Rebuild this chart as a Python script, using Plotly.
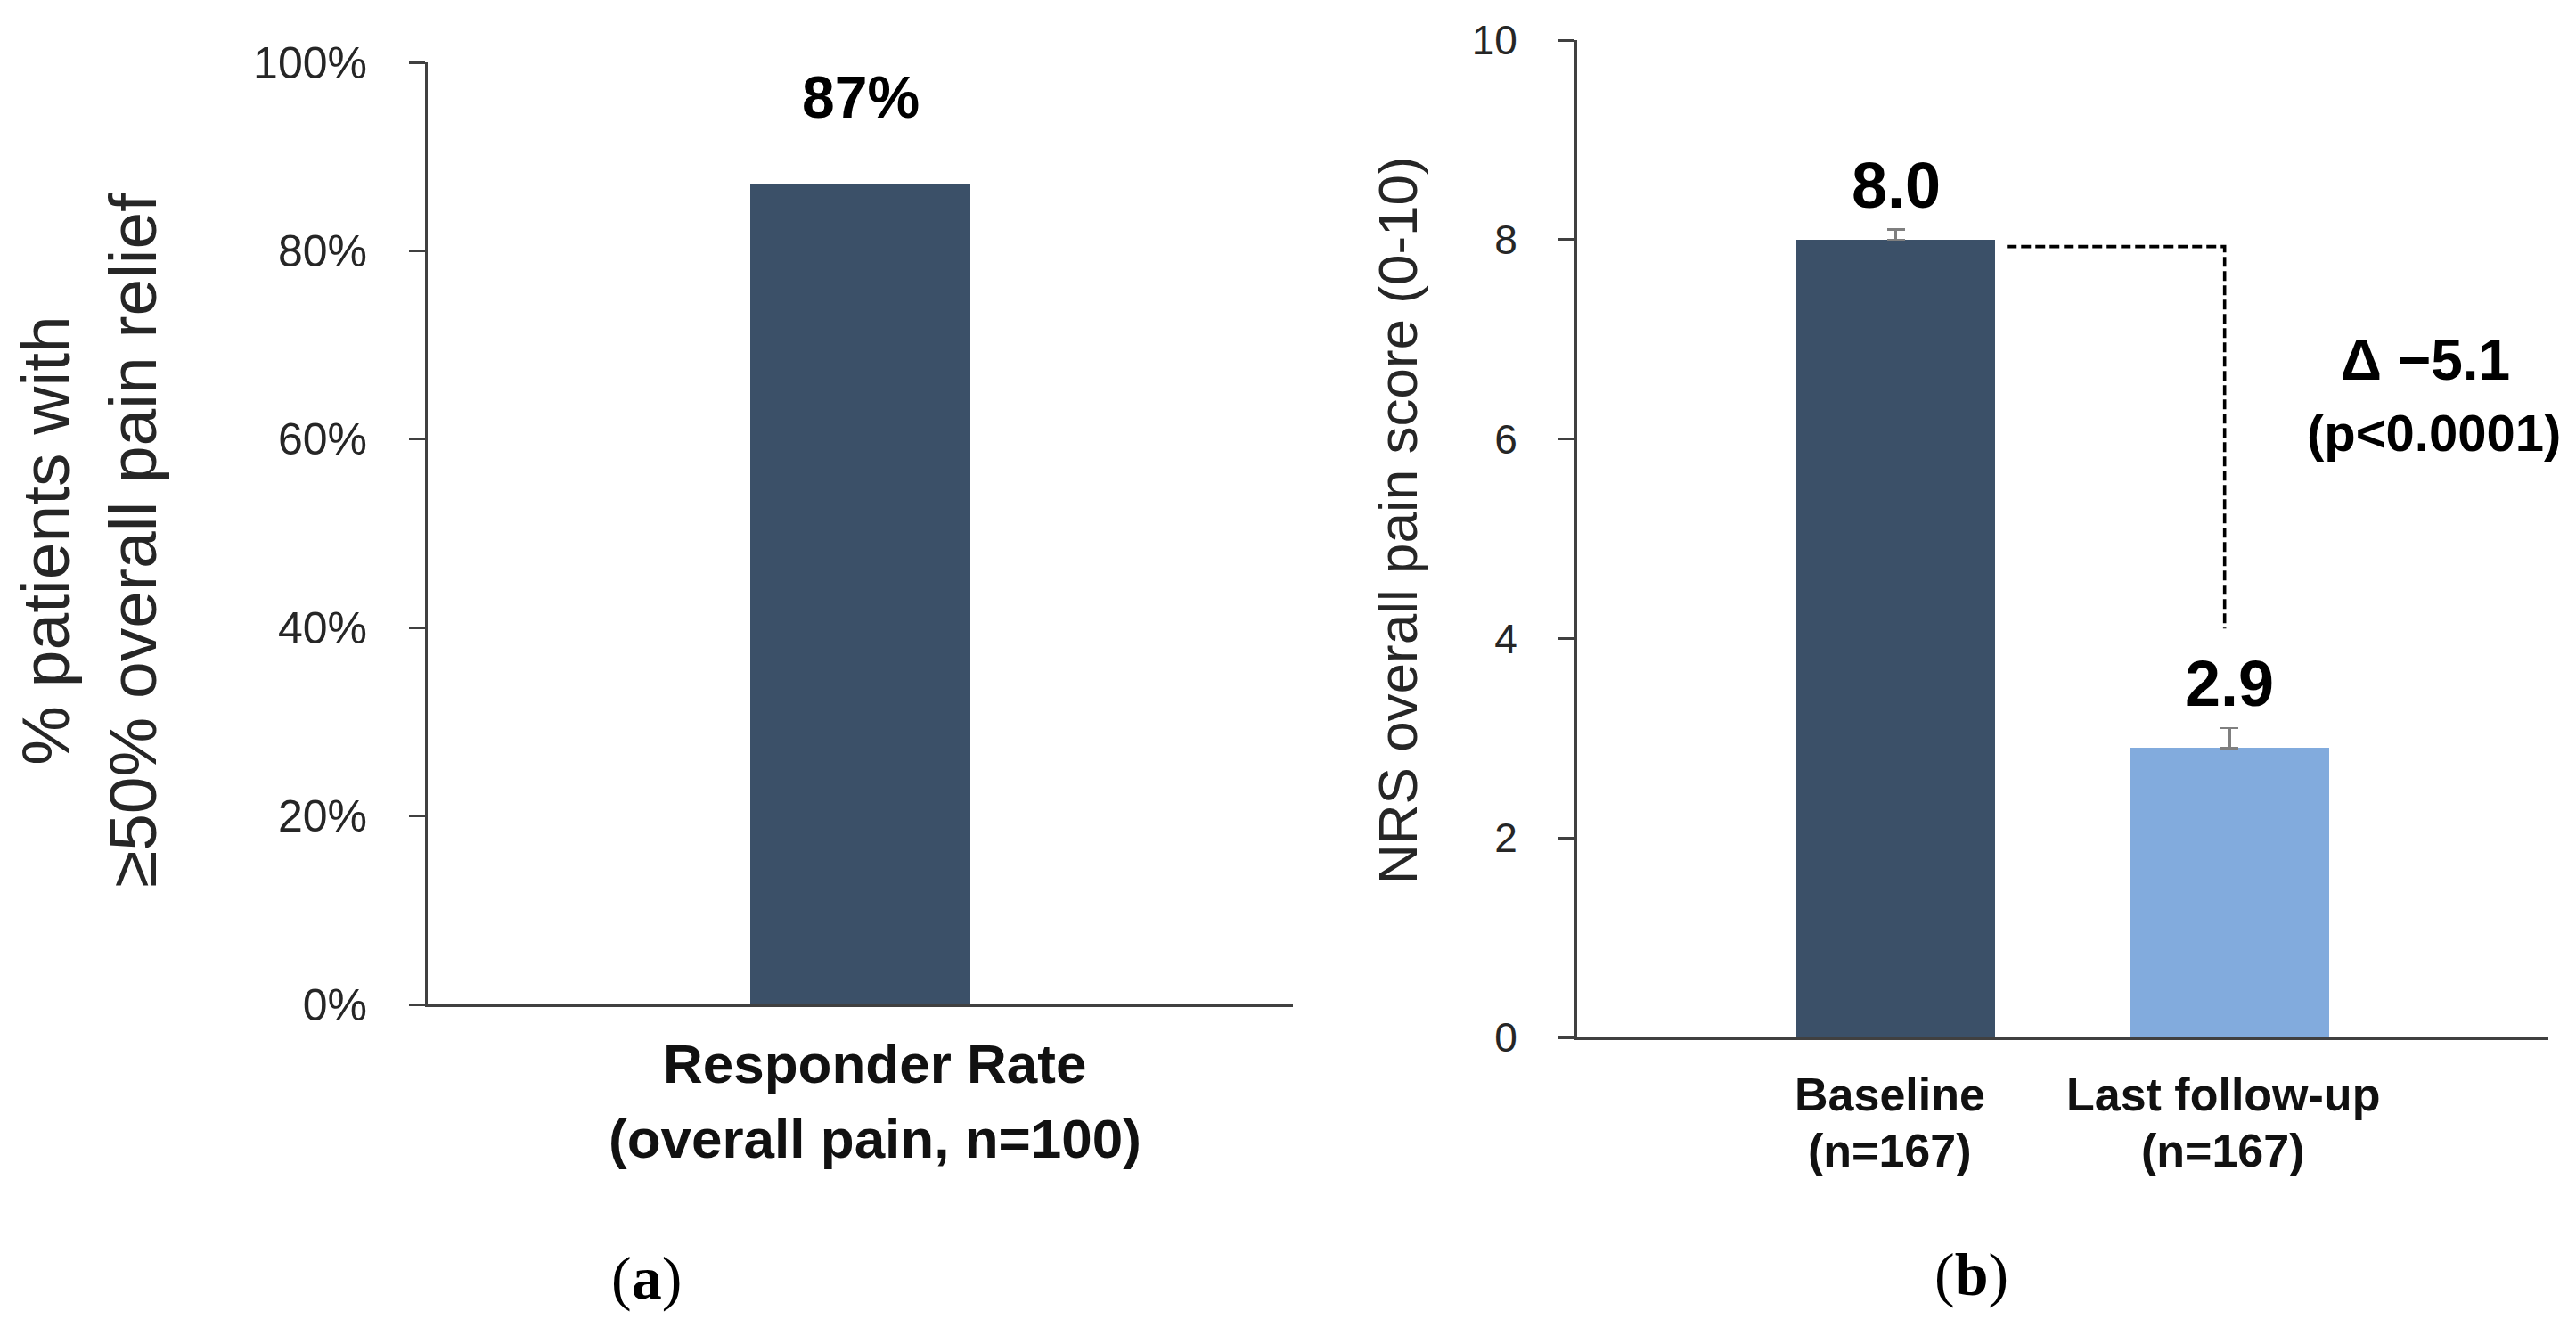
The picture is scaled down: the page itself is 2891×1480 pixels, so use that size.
import plotly.graph_objects as go

# ---- data ----
a_categories = ["Responder Rate"]
a_cat_lines = [["Responder Rate", "(overall pain, n=100)"]]
a_values = [87]
a_labels = ["87%"]
a_ticks = [0, 20, 40, 60, 80, 100]
a_ticktext = ["0%", "20%", "40%", "60%", "80%", "100%"]

b_categories = ["Baseline", "Last follow-up"]
b_cat_lines = [["Baseline", "(n=167)"], ["Last follow-up", "(n=167)"]]
b_values = [8.0, 2.9]
b_err_plus = [0.1, 0.2]
b_labels = ["8.0", "2.9"]
b_ticks = [0, 2, 4, 6, 8, 10]
delta_text = "Δ −5.1"
p_text = "(p<0.0001)"
dash_end_value = 4.1

W, H = 2891, 1480
AX = "#404040"
TXT = "#262626"
FONT = "Liberation Sans, Arial, sans-serif"
SERIF = "Liberation Serif, Times New Roman, serif"

fig = go.Figure()

fig.add_trace(go.Bar(
    x=a_categories, y=a_values, width=0.255,
    marker=dict(color="#3B5068", line=dict(width=0)),
    xaxis="x", yaxis="y", showlegend=False, hoverinfo="skip"))

fig.add_trace(go.Bar(
    x=b_categories, y=b_values, width=0.595,
    marker=dict(color=["#3B5068", "#82ABDD"], line=dict(width=0)),
    error_y=dict(type="data", array=b_err_plus, arrayminus=[0] * len(b_values),
                 symmetric=False, color="#7f7f7f", thickness=2.5, width=10),
    xaxis="x2", yaxis="y2", showlegend=False, hoverinfo="skip"))

common_y = dict(showgrid=False, zeroline=False, showline=True, linecolor=AX, linewidth=3,
                ticks="outside", ticklen=18, tickwidth=3, tickcolor=AX,
                ticklabelstandoff=37, fixedrange=True, automargin=False)
common_x = dict(showgrid=False, zeroline=False, showline=True, linecolor=AX, linewidth=3,
                ticks="", type="category", fixedrange=True, showticklabels=False,
                automargin=False)

fig.update_layout(
    width=W, height=H,
    margin=dict(l=0, r=0, t=0, b=0, pad=0),
    paper_bgcolor="white", plot_bgcolor="white",
    font=dict(family=FONT, color=TXT),
    bargap=0,
    xaxis=dict(domain=[472 / W, 1443 / W], anchor="y", range=[-0.5, 0.5], **common_x),
    yaxis=dict(domain=[1 - 1119 / H, 1 - 62 / H], anchor="x", range=[0, 100],
               tickvals=a_ticks, ticktext=a_ticktext,
               tickfont=dict(size=50, family=FONT, color=TXT), **common_y),
    xaxis2=dict(domain=[1762 / W, 2852 / W], anchor="y2", range=[-0.955, 1.955], **common_x),
    yaxis2=dict(domain=[1 - 1156 / H, 1 - 37 / H], anchor="x2", range=[0, 10],
                tickvals=b_ticks,
                tickfont=dict(size=46, family=FONT, color=TXT), **common_y),
)

# end tick marks on the category axes (Excel style)
shapes = []
for xr, yr in (("x domain", "y"), ("x2 domain", "y2")):
    for xv in (0, 1):
        shapes.append(dict(type="line", xref=xr, yref=yr, x0=xv, x1=xv,
                           ysizemode="pixel", yanchor=0, y0=0, y1=-14,
                           line=dict(color=AX, width=3)))

# dashed connector between the two bars in panel b
x_start = 0 + 0.595 / 2 + 0.035
x_end = 1 - 0.015
y_h = b_values[0] - 0.07
shapes.append(dict(type="path", xref="x2", yref="y2",
                   path=f"M {x_start},{y_h} L {x_end},{y_h} L {x_end},{dash_end_value}",
                   line=dict(color="black", width=3.6, dash="11px,5px")))
fig.update_layout(shapes=shapes)

ann = []


def add(**kw):
    kw.setdefault("showarrow", False)
    kw.setdefault("xanchor", "center")
    kw.setdefault("yanchor", "middle")
    ann.append(kw)


# value labels
add(x=a_categories[0], y=a_values[0], xref="x", yref="y", text=a_labels[0], yshift=98,
    font=dict(size=66, family=FONT, color="black", weight="bold"))
for c, v, e, t in zip(b_categories, b_values, b_err_plus, b_labels):
    add(x=c, y=v + e, xref="x2", yref="y2", text=t, yshift=50,
        font=dict(size=72, family=FONT, color="black", weight="bold"))
add(x=2714 / W, y=1 - 396 / H, xref="paper", yref="paper", text=delta_text,
    font=dict(size=64, family=FONT, color="black", weight="bold"))
add(x=2723 / W, y=1 - 477 / H, xref="paper", yref="paper", text=p_text,
    font=dict(size=58, family=FONT, color="black", weight="bold"))

# category labels (two lines each)
for c, lines in zip(a_categories, a_cat_lines):
    for ly, txt in zip((1185, 1269), lines):
        add(x=c, xref="x", y=1 - ly / H, yref="paper", text=txt, xshift=16,
            font=dict(size=62, family=FONT, color="#111111", weight="bold"))
for c, lines in zip(b_categories, b_cat_lines):
    for ly, txt in zip((1220, 1283), lines):
        add(x=c, xref="x2", y=1 - ly / H, yref="paper", text=txt, xshift=-7,
            font=dict(size=52, family=FONT, color="#111111", weight="bold"))

# axis titles
add(x=92 / W, y=1 - 599 / H, xref="paper", yref="paper", textangle=-90,
    text="% patients with<br>≥50% overall pain relief", align="center",
    font=dict(size=75, family=FONT, color=TXT))
add(x=1560 / W, y=1 - 576 / H, xref="paper", yref="paper", textangle=-90,
    text="NRS overall pain score (0-10)",
    font=dict(size=62, family=FONT, color=TXT))
# panel letters
add(x=717 / W, y=1 - 1426 / H, xref="paper", yref="paper", text="(<b>a</b>)",
    font=dict(size=68, family=SERIF, color="black"))
add(x=2204 / W, y=1 - 1422 / H, xref="paper", yref="paper", text="(<b>b</b>)",
    font=dict(size=68, family=SERIF, color="black"))
fig.update_layout(annotations=ann)

fig.write_html("out.html", config={"displayModeBar": False})
